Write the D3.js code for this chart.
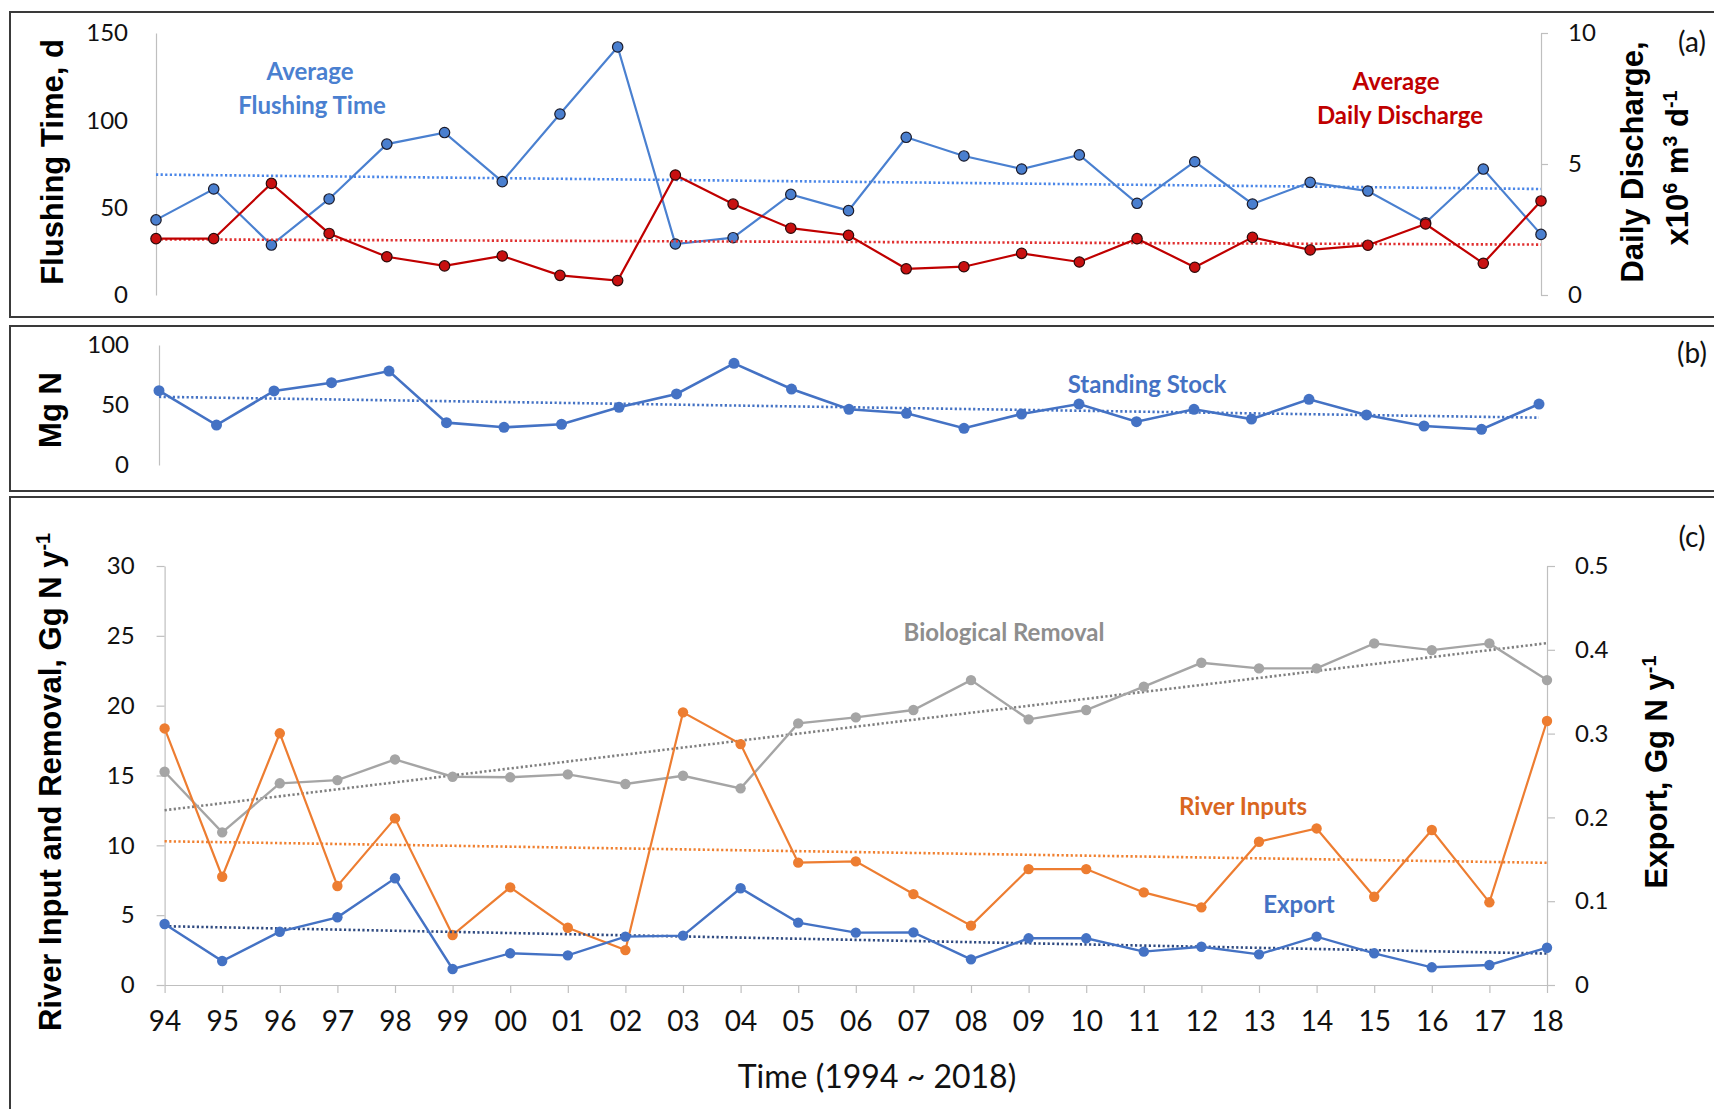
<!DOCTYPE html>
<html lang="en">
<head>
<meta charset="UTF-8">
<title>Flushing time, standing stock and N budget</title>
<script src="https://d3js.org/d3.v7.min.js"></script>
<style>
  body { margin: 0; background: #fff; }
  .tick text { font-family: Lato, "Open Sans", sans-serif; fill: #111; }
  .domain, .tick line { stroke: #bfbfbf; stroke-width: 1.2px; }
  .title { font-family: "Liberation Sans", Arial, sans-serif; font-weight: bold; font-size: 31px; fill: #000; }
  .note { font-family: Lato, sans-serif; font-weight: bold; font-size: 24px; }
  .tag { font-family: Lato, sans-serif; font-size: 28px; fill: #111; }
  .frame { fill: none; stroke: #3a3a3a; stroke-width: 2px; }
</style>
</head>
<body>
<svg id="chart"></svg>
<script>
// years 1994 ~ 2018, shown as two-digit labels
const yearLabels = ["94", "95", "96", "97", "98", "99", "00", "01", "02", "03", "04", "05", "06",
    "07", "08", "09", "10", "11", "12", "13", "14", "15", "16", "17", "18"];

// (a) average flushing time (d) and average daily discharge (x10^6 m3/d)
const flushingTime = [43, 60.7, 28.6, 55, 86.4, 93, 64.9, 103.6, 142, 29.2, 32.8, 57.6, 48.3,
    90.3, 79.6, 72.1, 80.2, 52.5, 76.3, 52.1, 64.5, 59.5, 41.4, 72.1, 34.7];
const dailyDischarge = [2.15, 2.15, 4.26, 2.35, 1.46, 1.11, 1.49, 0.75, 0.55, 4.58, 3.47, 2.55, 2.28,
    1.0, 1.08, 1.59, 1.26, 2.15, 1.06, 2.2, 1.72, 1.9, 2.71, 1.21, 3.59];

// (b) standing stock (Mg N)
const standingStock = [61.9, 33.3, 61.7, 68.6, 78.3, 35.3, 31.4, 33.9, 48.1, 59.2, 84.7, 63.3, 46.4,
    43.1, 30.6, 42.5, 50.8, 36.1, 46.4, 38.3, 54.7, 41.7, 32.5, 29.7, 50.8];

// (c) river inputs and biological removal (Gg N/y), export (Gg N/y, right axis)
const bioRemoval = [15.27, 10.93, 14.44, 14.67, 16.15, 14.91, 14.87, 15.08, 14.39, 14.98, 14.08, 18.73, 19.16,
    19.69, 21.83, 19.02, 19.69, 21.36, 23.07, 22.67, 22.67, 24.46, 23.98, 24.46, 21.83];
const riverInputs = [18.37, 7.75, 18.02, 7.09, 11.93, 3.58, 6.99, 4.1, 2.5, 19.52, 17.25, 8.76, 8.85,
    6.51, 4.25, 8.3, 8.3, 6.63, 5.56, 10.26, 11.21, 6.32, 11.1, 5.92, 18.9];
const exportN = [0.0728, 0.0286, 0.0636, 0.0808, 0.1273, 0.0191, 0.0378, 0.0354, 0.0577, 0.0589, 0.1154, 0.0744, 0.0625,
    0.0628, 0.0306, 0.0557, 0.0557, 0.0398, 0.0457, 0.0366, 0.0577, 0.0378, 0.0211, 0.0239, 0.0445];

const svg = d3.select("#chart").attr("width", 1714).attr("height", 1109);

// least squares line, like the Excel linear trendline
function trend(values) {
    const n = values.length;
    const xs = d3.range(n);
    const mx = d3.mean(xs), my = d3.mean(values);
    const slope = d3.sum(xs, i => (i - mx) * (values[i] - my)) / d3.sum(xs, i => (i - mx) * (i - mx));
    return [my - slope * mx, my + slope * (n - 1 - mx)];
}

function drawSeries(x, y, values, o) {
    const t = trend(values);
    svg.append("line")
        .attr("x1", x(yearLabels[0])).attr("x2", x(yearLabels[yearLabels.length - 1]))
        .attr("y1", y(t[0])).attr("y2", y(t[1]))
        .attr("stroke", o.trendColor).attr("stroke-width", 2.6)
        .attr("stroke-dasharray", "2.2,2.4");
    const line = d3.line().x((d, i) => x(yearLabels[i])).y(d => y(d));
    svg.append("path").datum(values)
        .attr("d", line).attr("fill", "none")
        .attr("stroke", o.color).attr("stroke-width", o.width || 2.2);
    svg.append("g").selectAll("circle").data(values).join("circle")
        .attr("cx", (d, i) => x(yearLabels[i])).attr("cy", d => y(d))
        .attr("r", o.r || 5)
        .attr("fill", o.fill || o.color)
        .attr("stroke", o.outline || "none").attr("stroke-width", 1.2);
}

// rotated axis title; parts are plain strings or {sup: "..."}
function vTitle(cx, cy, parts) {
    const t = svg.append("text").attr("class", "title")
        .attr("transform", `translate(${cx},${cy}) rotate(-90)`)
        .attr("text-anchor", "middle").attr("dy", "0.35em");
    const lift = 31 * 0.34; // px a superscript is raised
    let back = 0;
    parts.forEach(p => {
        if (typeof p === "string") {
            t.append("tspan").text(p).attr("dy", back ? back + "px" : null);
            back = 0;
        } else {
            t.append("tspan").text(p.sup).attr("font-size", "0.64em").attr("dy", -lift + "px");
            back = lift;
        }
    });
}

function styleAxis(g, size) {
    g.attr("font-size", size);
    g.selectAll(".tick text").attr("font-size", size);
}

// frames
svg.append("rect").attr("class", "frame").attr("x", 10).attr("y", 12).attr("width", 1720).attr("height", 305);
svg.append("rect").attr("class", "frame").attr("x", 10).attr("y", 326).attr("width", 1720).attr("height", 165);
svg.append("rect").attr("class", "frame").attr("x", 10).attr("y", 497).attr("width", 1720).attr("height", 640);

// ---- (a) ----
const xA = d3.scalePoint().domain(yearLabels).range([156, 1541]);
const yA = d3.scaleLinear().domain([0, 150]).range([295, 33]);
const yA2 = d3.scaleLinear().domain([0, 10]).range([295, 33]);

svg.append("g").attr("transform", "translate(156,0)")
    .call(d3.axisLeft(yA).tickValues([0, 50, 100, 150]).tickSize(0).tickPadding(28))
    .call(g => styleAxis(g, 24));
svg.append("g").attr("transform", "translate(1541,0)")
    .call(d3.axisRight(yA2).tickValues([0, 5, 10]).tickSize(7).tickSizeOuter(0).tickPadding(20))
    .call(g => styleAxis(g, 24));

drawSeries(xA, yA, flushingTime, { color: "#4a80d0", fill: "#4a7fcf", outline: "#1b1b2a", trendColor: "#4a86e8", r: 5.2 });
drawSeries(xA, yA2, dailyDischarge, { color: "#c00000", fill: "#c81010", outline: "#2a0a0a", trendColor: "#e03030", r: 5.2 });

vTitle(52, 162, ["Flushing Time, d"]);
vTitle(1632, 162, ["Daily Discharge,"]);
vTitle(1677, 168, ["x10", { sup: "6" }, " m", { sup: "3" }, " d", { sup: "-1" }]);

svg.append("text").attr("class", "note").attr("fill", "#4a80d0").attr("text-anchor", "middle")
    .attr("x", 310).attr("y", 72).attr("dy", "0.35em").text("Average");
svg.append("text").attr("class", "note").attr("fill", "#4a80d0").attr("text-anchor", "middle")
    .attr("x", 312).attr("y", 106).attr("dy", "0.35em").text("Flushing Time");
svg.append("text").attr("class", "note").attr("fill", "#c00000").attr("text-anchor", "middle")
    .attr("x", 1396).attr("y", 82).attr("dy", "0.35em").text("Average");
svg.append("text").attr("class", "note").attr("fill", "#c00000").attr("text-anchor", "middle")
    .attr("x", 1400).attr("y", 116).attr("dy", "0.35em").text("Daily Discharge");
svg.append("text").attr("class", "tag").attr("text-anchor", "middle")
    .attr("x", 1692).attr("y", 42).attr("dy", "0.35em").text("(a)");

// ---- (b) ----
const xB = d3.scalePoint().domain(yearLabels).range([159, 1539]);
const yB = d3.scaleLinear().domain([0, 100]).range([465, 345]);

svg.append("g").attr("transform", "translate(159,0)")
    .call(d3.axisLeft(yB).tickValues([0, 50, 100]).tickSize(0).tickPadding(30))
    .call(g => styleAxis(g, 24));

drawSeries(xB, yB, standingStock, { color: "#4472c4", trendColor: "#4472c4", r: 5.5, width: 2.6 });

vTitle(50, 410, ["Mg N"]);
svg.append("text").attr("class", "note").attr("fill", "#4472c4").attr("text-anchor", "middle")
    .attr("x", 1147).attr("y", 385).attr("dy", "0.35em").text("Standing Stock");
svg.append("text").attr("class", "tag").attr("text-anchor", "middle")
    .attr("x", 1692).attr("y", 353).attr("dy", "0.35em").text("(b)");

// ---- (c) ----
const xC = d3.scalePoint().domain(yearLabels).range([164.6, 1547]);
const yC = d3.scaleLinear().domain([0, 30]).range([985, 566]);
const yC2 = d3.scaleLinear().domain([0, 0.5]).range([985, 566]);

svg.append("g").attr("transform", "translate(164.6,0)")
    .call(d3.axisLeft(yC).tickValues(d3.range(0, 31, 5)).tickSize(8).tickSizeOuter(0).tickPadding(22))
    .call(g => styleAxis(g, 24));
svg.append("g").attr("transform", "translate(1547,0)")
    .call(d3.axisRight(yC2).tickValues([0, 0.1, 0.2, 0.3, 0.4, 0.5]).tickFormat(d => d === 0 ? "0" : d3.format(".1f")(d))
        .tickSize(8).tickSizeOuter(0).tickPadding(20))
    .call(g => styleAxis(g, 24));
svg.append("g").attr("transform", "translate(0,985)")
    .call(d3.axisBottom(xC).tickSize(8).tickSizeOuter(0).tickPadding(18))
    .call(g => styleAxis(g, 28));

drawSeries(xC, yC, bioRemoval, { color: "#a5a5a5", trendColor: "#7f7f7f", r: 5.2, width: 2.4 });
drawSeries(xC, yC, riverInputs, { color: "#ed7d31", trendColor: "#f08030", r: 5.2, width: 2.2 });
drawSeries(xC, yC2, exportN, { color: "#4472c4", trendColor: "#2f4a80", r: 5.2, width: 2.4 });

vTitle(50, 782, ["River Input and Removal, Gg N y", { sup: "-1" }]);
vTitle(1656, 772, ["Export, Gg N y", { sup: "-1" }]);

svg.append("text").attr("font-family", "Lato, sans-serif").attr("font-size", 32).attr("fill", "#111")
    .attr("text-anchor", "middle").attr("x", 877).attr("y", 1077).attr("dy", "0.35em")
    .text("Time (1994 ~ 2018)");

svg.append("text").attr("class", "note").attr("fill", "#8e8e8e").attr("text-anchor", "middle")
    .attr("x", 1004).attr("y", 633).attr("dy", "0.35em").text("Biological Removal");
svg.append("text").attr("class", "note").attr("fill", "#d9661f").attr("text-anchor", "middle")
    .attr("x", 1243).attr("y", 807).attr("dy", "0.35em").text("River Inputs");
svg.append("text").attr("class", "note").attr("fill", "#4472c4").attr("text-anchor", "middle")
    .attr("x", 1299).attr("y", 905).attr("dy", "0.35em").text("Export");
svg.append("text").attr("class", "tag").attr("text-anchor", "middle")
    .attr("x", 1692).attr("y", 537).attr("dy", "0.35em").text("(c)");
</script>
</body>
</html>
